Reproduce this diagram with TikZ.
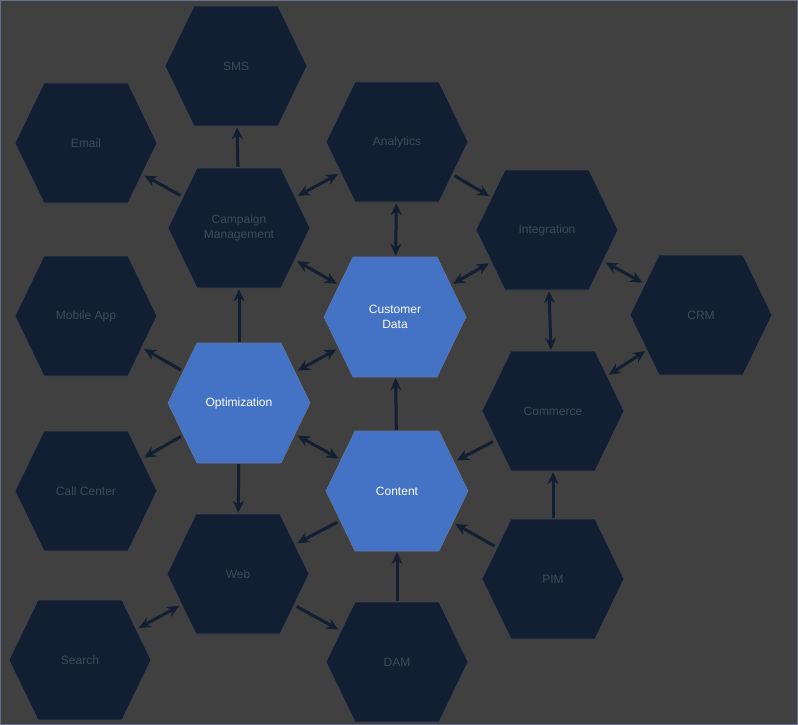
\documentclass[tikz,border=0pt]{standalone}
\usepackage{fontspec}
\setmainfont{Liberation Sans}
\usetikzlibrary{arrows.meta, shapes.geometric}
\definecolor{bg}{RGB}{64, 64, 64}
\definecolor{navy}{RGB}{18, 30, 50}
\definecolor{dimtext}{RGB}{64, 74, 90}
\definecolor{hexblue}{RGB}{68, 114, 196}
\definecolor{frame}{RGB}{100, 112, 140}
\tikzset{
  hub/.style={ellipse, minimum width=138pt, minimum height=122pt, inner sep=0pt, align=center, font=\fontsize{12}{15}\selectfont},
  link/.style={-{Stealth[length=12pt, width=11pt]}, line width=3pt, navy},
  both/.style={{Stealth[length=12pt, width=11pt]}-{Stealth[length=12pt, width=11pt]}, line width=3pt, navy}
}
\newcommand{\hexpath}[3]{%
  \fill[#3, draw=#3!60!gray, line width=0.6pt] (#1-71,#2) -- (#1-42,#2-60) -- (#1+42,#2-60)
    -- (#1+71,#2) -- (#1+42,#2+60) -- (#1-42,#2+60) -- cycle;}
\begin{document}
\begin{tikzpicture}[x=1pt, y=-1pt]
  \fill[bg, draw=frame, line width=1pt] (0.5,0.5) rectangle (797.5,724.5);
  \useasboundingbox (0,0) rectangle (798,725);

  % dark hexagons
  \foreach \cx/\cy in {236/66, 86/143, 397/142, 239/228, 547/230, 701/315, 86/316,
    553/411, 86/491, 238/574, 553/579, 80/660, 397/662}
    \hexpath{\cx}{\cy}{navy};
  % blue hexagons
  \foreach \cx/\cy in {395/317, 239/403, 397/491}
    \hexpath{\cx}{\cy}{hexblue};

  \node[hub, text=dimtext] (sms) at (236,66) {SMS};
  \node[hub, text=dimtext] (email) at (86,143) {Email};
  \node[hub, text=dimtext] (analytics) at (397,142) {Analytics};
  \node[hub, text=dimtext] (campaign) at (239,228) {Campaign\\Management};
  \node[hub, text=dimtext] (integration) at (547,230) {Integration};
  \node[hub, text=white] (customer) at (395,317) {Customer\\Data};
  \node[hub, text=dimtext] (crm) at (701,315) {CRM};
  \node[hub, text=dimtext] (mobile) at (86,316) {Mobile App};
  \node[hub, text=white] (optim) at (239,403) {Optimization};
  \node[hub, text=dimtext] (commerce) at (553,411) {Commerce};
  \node[hub, text=dimtext] (callcenter) at (86,491) {Call Center};
  \node[hub, text=white] (content) at (397,491) {Content};
  \node[hub, text=dimtext] (web) at (238,574) {Web};
  \node[hub, text=dimtext] (pim) at (553,579) {PIM};
  \node[hub, text=dimtext] (search) at (80,660) {Search};
  \node[hub, text=dimtext] (dam) at (397,662) {DAM};

  % connectors
  \draw[link] (campaign) -- (sms);
  \draw[link] (campaign) -- (email);
  \draw[both] (campaign) -- (analytics);
  \draw[link] (analytics) -- (integration);
  \draw[both] (analytics) -- (customer);
  \draw[both] (campaign) -- (customer);
  \draw[both] (integration) -- (customer);
  \draw[both] (integration) -- (crm);
  \draw[both] (integration) -- (commerce);
  \draw[both] (crm) -- (commerce);
  \draw[link] (optim) -- (campaign);
  \draw[link] (optim) -- (mobile);
  \draw[both] (optim) -- (customer);
  \draw[link] (optim) -- (callcenter);
  \draw[both] (optim) -- (content);
  \draw[link] (optim) -- (web);
  \draw[link] (content) -- (customer);
  \draw[link] (commerce) -- (content);
  \draw[link] (pim) -- (commerce);
  \draw[link] (pim) -- (content);
  \draw[link] (content) -- (web);
  \draw[both] (web) -- (search);
  \draw[link] (web) -- (dam);
  \draw[link] (dam) -- (content);
\end{tikzpicture}
\end{document}
